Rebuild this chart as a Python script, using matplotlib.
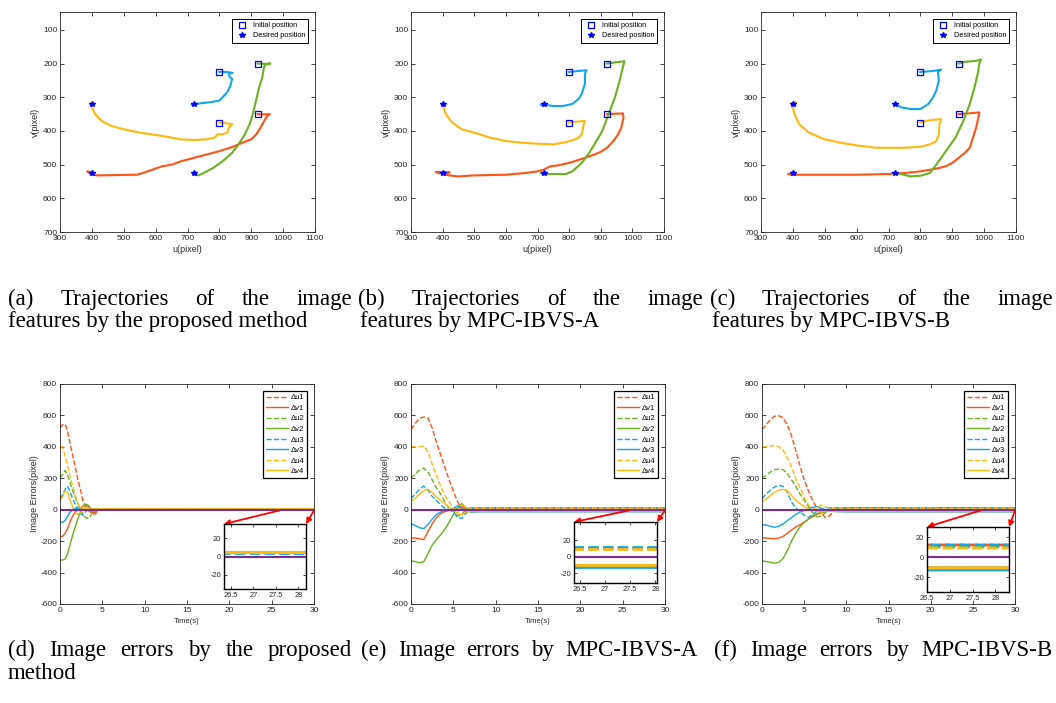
import matplotlib
matplotlib.use("Agg")
import matplotlib.pyplot as plt
from matplotlib.ticker import FuncFormatter

plt.rcParams['font.family'] = ['Liberation Sans', 'DejaVu Sans']
plt.rcParams['axes.unicode_minus'] = False

W, H = 1056, 703

c_red = '#FF5317'
c_green = '#6BB120'
c_blue = '#14A5EB'
c_yellow = '#FFB90F'
c_purple = '#7E2F8E'
colors = [c_red, c_green, c_blue, c_yellow]

# ---------------- image feature trajectories ----------------
init_u = [920, 920, 800, 800]
init_v = [350, 200, 225, 375]
goal_u = [400, 720, 720, 400]
goal_v = [525, 525, 320, 320]

# (a) proposed method
a_u1 = [920, 940, 958, 948, 938, 928, 916, 900, 880, 860, 840, 800, 760, 720, 680, 650, 620, 590, 560, 540, 480, 420, 400, 385, 395, 400]
a_v1 = [350, 351, 350, 358, 375, 392, 410, 425, 432, 440, 448, 460, 470, 480, 490, 500, 505, 515, 525, 530, 531, 532, 530, 520, 522, 525]
a_u2 = [920, 940, 960, 945, 940, 935, 925, 915, 905, 895, 880, 860, 840, 810, 780, 750, 735, 725, 715, 720]
a_v2 = [200, 201, 200, 203, 210, 240, 270, 310, 350, 380, 410, 440, 465, 490, 510, 525, 532, 530, 525, 525]
a_u3 = [800, 825, 842, 830, 832, 840, 835, 825, 810, 800, 770, 740, 720, 713, 720]
a_v3 = [225, 225, 228, 230, 240, 245, 265, 285, 300, 310, 315, 318, 322, 322, 320]
a_u4 = [800, 820, 840, 830, 825, 810, 795, 785, 760, 720, 680, 650, 640, 600, 550, 500, 460, 430, 410, 400, 395, 400]
a_v4 = [375, 377, 380, 390, 405, 410, 410, 420, 425, 427, 425, 420, 418, 412, 405, 395, 385, 370, 350, 330, 318, 320]

# (b) MPC-IBVS-A
b_u1 = [920, 945, 970, 972, 965, 955, 940, 920, 900, 880, 850, 800, 760, 740, 720, 700, 660, 600, 500, 450, 420, 400, 378, 395, 422, 400]
b_v1 = [350, 349, 348, 360, 390, 410, 430, 450, 462, 470, 480, 495, 503, 505, 515, 520, 525, 530, 532, 535, 532, 528, 522, 522, 523, 525]
b_u2 = [920, 950, 975, 970, 960, 945, 925, 905, 880, 860, 840, 810, 790, 740, 715, 710, 720]
b_v2 = [200, 196, 193, 210, 250, 300, 350, 400, 440, 470, 495, 520, 528, 528, 528, 525, 525]
b_u3 = [800, 830, 855, 850, 850, 845, 840, 830, 810, 780, 750, 730, 710, 720]
b_v3 = [225, 222, 220, 230, 260, 275, 290, 305, 320, 326, 326, 323, 322, 320]
b_u4 = [800, 830, 850, 845, 840, 830, 810, 780, 750, 700, 650, 600, 550, 500, 460, 430, 410, 403, 400, 400]
b_v4 = [375, 372, 370, 385, 410, 420, 428, 435, 440, 438, 435, 430, 420, 405, 395, 375, 350, 330, 318, 320]

# (c) MPC-IBVS-B
c_u1 = [920, 950, 985, 982, 975, 965, 955, 940, 920, 900, 880, 850, 800, 750, 700, 600, 500, 400, 385, 400]
c_v1 = [350, 348, 345, 360, 390, 420, 450, 465, 480, 495, 505, 512, 520, 525, 528, 530, 530, 530, 528, 527]
c_u2 = [920, 940, 975, 990, 985, 980, 970, 955, 935, 910, 880, 850, 830, 800, 770, 740, 710, 720]
c_v2 = [200, 195, 192, 188, 200, 230, 270, 320, 370, 420, 460, 500, 525, 533, 535, 528, 525, 525]
c_u3 = [800, 840, 865, 855, 858, 850, 840, 825, 800, 770, 740, 720]
c_v3 = [225, 222, 218, 225, 250, 280, 300, 320, 335, 335, 330, 320]
c_u4 = [800, 830, 865, 860, 858, 850, 830, 800, 750, 700, 660, 600, 550, 500, 450, 420, 405, 400, 395, 410, 400]
c_v4 = [375, 368, 365, 380, 410, 430, 440, 447, 450, 450, 450, 443, 435, 425, 405, 380, 350, 330, 318, 315, 320]

# ---------------- image errors ----------------
err_labels = ['Δu1', 'Δv1', 'Δu2', 'Δv2', 'Δu3', 'Δv3', 'Δu4', 'Δv4']

# (d) proposed method
d_t = [0, 0.3, 0.6, 0.9, 1.2, 1.5, 1.8, 2.1, 2.4, 2.7, 3.0, 3.3, 3.6, 3.9, 4.2, 4.5, 5.0, 30]
d_u1 = [520, 540, 545, 500, 420, 345, 270, 195, 130, 60, 15, -5, -15, -30, -25, 0, 5, 5]
d_v1 = [-170, -170, -150, -120, -75, -40, -15, 0, 10, 25, 30, 20, 0, -20, -15, 0, 5, 5]
d_u2 = [200, 225, 250, 220, 170, 120, 80, 40, 0, -25, -50, -55, -40, -15, 0, 5, 5, 5]
d_v2 = [-320, -320, -315, -280, -220, -160, -110, -60, -15, 20, 35, 30, 10, -10, -5, 5, 5, 5]
d_u3 = [70, 95, 130, 150, 110, 70, 35, 5, -25, -35, -15, 0, 5, 3.5, 3.5, 3.5, 3.5, 3.5]
d_v3 = [-80, -80, -70, -40, -15, 0, 10, 10, 5, 0, 5, 5, 5, 5, 5, 5, 5, 5]
d_u4 = [400, 400, 340, 280, 210, 150, 90, 40, 5, 20, 10, -5, -10, 0, 5, 5, 5, 5]
d_v4 = [60, 80, 120, 110, 60, 20, -20, -30, -20, 0, 10, 10, 5, 5, 5, 5, 5, 5]

# (e) MPC-IBVS-A
e_t = [0, 0.5, 1.0, 1.5, 2.0, 2.5, 3.0, 3.5, 4.0, 4.5, 5.0, 5.5, 6.0, 6.5, 7.0, 7.5, 8.0, 30]
e_u1 = [510, 550, 580, 590, 585, 520, 430, 350, 270, 190, 120, 50, 0, -25, 10, 12, 11, 11]
e_v1 = [-180, -180, -185, -190, -140, -90, -50, -25, -12, -5, 0, 10, 25, -5, -10, -12, -11, -11]
e_u2 = [200, 230, 250, 265, 240, 190, 140, 100, 50, 5, -10, -40, -30, 0, 10, 10, 10, 10]
e_v2 = [-325, -330, -338, -330, -280, -225, -190, -160, -125, -80, -30, 10, 40, 10, -15, -12, -10.5, -10.5]
e_u3 = [70, 100, 130, 150, 125, 85, 60, 30, 10, 0, -15, -50, -55, -20, 5, 12, 12, 12]
e_v3 = [-90, -100, -115, -120, -95, -60, -30, -15, -5, 0, 10, 25, 10, -10, -12, -13, -12.5, -12.5]
e_u4 = [400, 400, 400, 405, 370, 290, 220, 150, 90, 50, 10, -20, 30, 15, 10, 9, 9, 9]
e_v4 = [55, 70, 100, 120, 130, 110, 80, 60, 40, 15, 0, -25, -35, -15, -10, -10, -10, -10]

# (f) MPC-IBVS-B
f_t = [0, 0.5, 1.0, 1.5, 2.0, 2.5, 3.0, 3.5, 4.0, 4.5, 5.0, 5.5, 6.0, 6.5, 7.0, 7.5, 8.0, 8.5, 9.0, 10.0, 30]
f_u1 = [510, 540, 575, 595, 598, 585, 540, 470, 380, 280, 190, 120, 60, 10, -20, -50, -40, -10, 5, 12, 12]
f_v1 = [-180, -180, -183, -185, -180, -170, -150, -130, -110, -95, -80, -60, -45, -30, -20, -12, -8, -8, -10, -11, -11]
f_u2 = [200, 220, 240, 255, 258, 255, 230, 190, 150, 100, 60, 20, -20, -45, -40, -20, 0, 10, 10, 10, 10]
f_v2 = [-325, -330, -335, -340, -335, -310, -260, -200, -150, -110, -80, -60, -40, -25, -15, -10, -10, -11, -11, -11, -11]
f_u3 = [70, 100, 125, 145, 155, 148, 110, 50, 10, -10, -35, -50, -30, -10, 5, 10, 12, 12, 12, 12, 12]
f_v3 = [-95, -98, -105, -112, -105, -90, -70, -50, -30, -15, -5, 5, 15, 20, 10, 0, -5, -10, -12, -13, -13]
f_u4 = [400, 400, 405, 410, 400, 380, 330, 270, 200, 140, 80, 30, 0, 10, 30, 20, 10, 9, 9, 9, 9]
f_v4 = [50, 70, 90, 110, 125, 130, 120, 90, 60, 40, 20, 5, -5, -10, -15, -10, -10, -11, -11, -11, -11]


def px_rect(l, t, r, b):
    return [l / W, 1 - b / H, (r - l) / W, (b - t) / H]


def style_axes(ax, lw=0.6):
    for s in ax.spines.values():
        s.set_linewidth(lw)
        s.set_color('#262626')
    ax.tick_params(direction='in', top=True, right=True, length=3, width=0.6,
                   labelsize=6, colors='#262626', pad=2)


fig = plt.figure(figsize=(W / 100, H / 100), dpi=100)

# ---------- top row: trajectories ----------
traj_sets = [
    ([a_u1, a_u2, a_u3, a_u4], [a_v1, a_v2, a_v3, a_v4], (60, 12, 315, 232)),
    ([b_u1, b_u2, b_u3, b_u4], [b_v1, b_v2, b_v3, b_v4], (411, 12, 664, 232)),
    ([c_u1, c_u2, c_u3, c_u4], [c_v1, c_v2, c_v3, c_v4], (761, 12, 1016, 232)),
]
for us, vs, rect in traj_sets:
    ax = fig.add_axes(px_rect(*rect))
    for u, v, col in zip(us, vs, colors):
        ax.plot(u, v, color=col, lw=1.5)
    ax.plot(init_u, init_v, 's', mfc='none', mec='#0000FF', ms=4.5, mew=0.9,
            label='Initial position')
    ax.plot(goal_u, goal_v, '*', color='#0000FF', ms=3.8, label='Desired position')
    ax.set_xlim(300, 1100)
    ax.set_ylim(700, 47)
    ax.set_xticks(range(300, 1101, 100))
    ax.set_yticks(range(100, 701, 100))
    ax.set_xlabel('u(pixel)', fontsize=6.5, color='#262626', labelpad=2)
    ax.set_ylabel('v(pixel)', fontsize=6.5, color='#262626', labelpad=2)
    style_axes(ax)
    leg = ax.legend(loc='upper right', fontsize=5.3, fancybox=False, framealpha=1,
                    edgecolor='black', borderaxespad=0.9, handletextpad=0.6,
                    labelspacing=0.4, borderpad=0.45, handlelength=1.8,
                    markerscale=1.1)
    leg.get_frame().set_linewidth(0.7)

# ---------- bottom row: image errors ----------
err_sets = [
    (d_t, [d_u1, d_v1, d_u2, d_v2, d_u3, d_v3, d_u4, d_v4], (60, 384, 314, 604),
     (224, 524, 306, 589), (26.35, 28.17), (-36, 36), 25.9),
    (e_t, [e_u1, e_v1, e_u2, e_v2, e_u3, e_v3, e_u4, e_v4], (411, 384, 665, 604),
     (574, 522, 657, 583), (26.39, 28.03), (-32, 42), 25.7),
    (f_t, [f_u1, f_v1, f_u2, f_v2, f_u3, f_v3, f_u4, f_v4], (762, 384, 1015, 604),
     (927, 527, 1009, 592), (26.6, 28.3), (-35, 30), 25.9),
]
g_fmt = FuncFormatter(lambda x, p: '%g' % x)
for t, series, rect, irect, ixlim, iylim, t_arrow in err_sets:
    ax = fig.add_axes(px_rect(*rect))
    ins = fig.add_axes(px_rect(*irect))
    for i, (y, lab) in enumerate(zip(series, err_labels)):
        col = colors[i // 2]
        ls = '--' if i % 2 == 0 else '-'
        ax.plot(t, y, color=col, ls=ls, lw=1.0, label=lab)
        ins.plot(t, y, color=col, ls=ls, lw=2.0)
    ax.axhline(0, color=c_purple, lw=1.5)
    ins.axhline(0, color=c_purple, lw=1.5)
    ax.set_xlim(0, 30)
    ax.set_ylim(-600, 800)
    ax.set_xticks(range(0, 31, 5))
    ax.set_yticks(range(-600, 801, 200))
    ax.set_xlabel('Time(s)', fontsize=5.5, color='#262626', labelpad=3)
    ax.set_ylabel('Image Errors(pixel)', fontsize=6.5, color='#262626', labelpad=1)
    style_axes(ax)
    leg = ax.legend(loc='upper right', fontsize=5.5, fancybox=False, framealpha=1,
                    edgecolor='black', borderaxespad=0.9, handlelength=2.9,
                    handletextpad=0.3, labelspacing=0.42, borderpad=0.4)
    leg.get_frame().set_linewidth(0.9)

    ins.set_xlim(*ixlim)
    ins.set_ylim(*iylim)
    ins.set_xticks([26.5, 27, 27.5, 28])
    ins.set_yticks([-20, 0, 20])
    ins.xaxis.set_major_formatter(g_fmt)
    ins.yaxis.set_major_formatter(g_fmt)
    style_axes(ins, lw=1.0)
    ins.tick_params(labelsize=5.3, length=2)
    for s in ins.spines.values():
        s.set_color('black')

    for corner, start in [((0, 1), (t_arrow, -5)), ((1, 1), (30, -5))]:
        ax.annotate('', xy=corner, xycoords=ins.transAxes, xytext=start,
                    textcoords='data', annotation_clip=False,
                    arrowprops=dict(arrowstyle='-|>', color='#FF0000', lw=1.3,
                                    mutation_scale=8, shrinkA=0, shrinkB=0))

# ---------- captions ----------
cap_size = 16.5
serif = ['Liberation Serif', 'DejaVu Serif']
renderer = fig.canvas.get_renderer()


def caption_line(text, x0, y, x1=None):
    if x1 is None:
        fig.text(x0 / W, 1 - y / H, text, fontsize=cap_size, family=serif,
                 va='baseline')
        return
    words = text.split()
    objs = [fig.text(0, 1 - y / H, w, fontsize=cap_size, family=serif, va='baseline')
            for w in words]
    widths = [o.get_window_extent(renderer).width for o in objs]
    gap = (x1 - x0 - sum(widths)) / (len(words) - 1)
    x = x0
    for o, w in zip(objs, widths):
        o.set_x(x / W)
        x += w + gap


caption_line('(a) Trajectories of the image', 8, 305, 352)
caption_line('features by the proposed method', 8, 327)
caption_line('(b) Trajectories of the image', 358, 305, 703)
caption_line('features by MPC-IBVS-A', 360, 327)
caption_line('(c) Trajectories of the image', 710, 305, 1053)
caption_line('features by MPC-IBVS-B', 712, 327)

caption_line('(d) Image errors by the proposed', 8, 656, 352)
caption_line('method', 8, 679)
caption_line('(e) Image errors by MPC-IBVS-A', 361, 656, 698)
caption_line('(f) Image errors by MPC-IBVS-B', 714, 656, 1053)

fig.savefig('out.png', dpi=100)
